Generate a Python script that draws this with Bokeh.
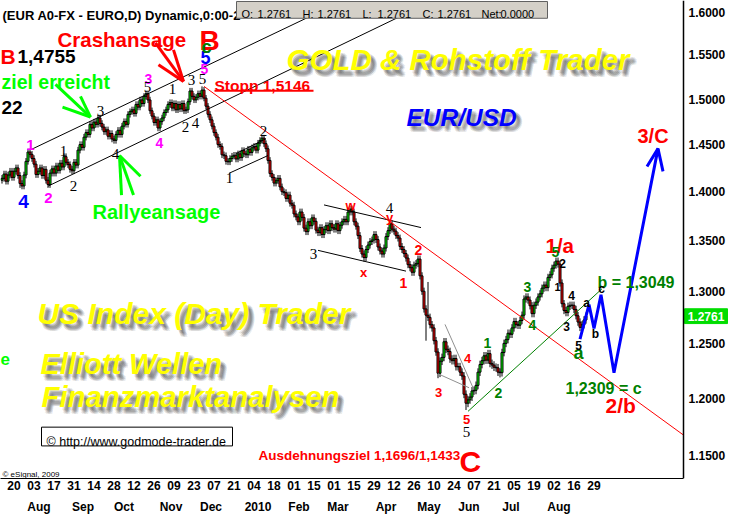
import math
from bokeh.plotting import figure
from bokeh.models import FixedTicker, PrintfTickFormatter, LinearAxis, Range1d
from bokeh.core.properties import value
from bokeh.embed import file_html
from bokeh.resources import INLINE

# ---------------- data ----------------
# bar index 0 = 20 Jul 2009 (daily EUR/USD bars, trading days)
first_bar = -6
first_open = 1.4120
closes = [
    1.4140, 1.4185, 1.4110, 1.4175, 1.4215, 1.4150,
    1.4215, 1.4250, 1.4170, 1.4085, 1.4060, 1.4175, 1.4320, 1.4420, 1.4395, 1.4350,
    1.4290, 1.4180, 1.4215, 1.4250, 1.4170, 1.4235, 1.4120, 1.4075, 1.4195, 1.4240,
    1.4195, 1.4270, 1.4225, 1.4300, 1.4260, 1.4370, 1.4310, 1.4285, 1.4235, 1.4220,
    1.4310, 1.4280, 1.4440, 1.4500, 1.4470, 1.4580, 1.4630, 1.4610, 1.4720, 1.4680,
    1.4745, 1.4720, 1.4790, 1.4730, 1.4690, 1.4640, 1.4660, 1.4590, 1.4620, 1.4560,
    1.4545, 1.4610, 1.4655, 1.4610, 1.4700, 1.4750, 1.4720, 1.4830, 1.4860, 1.4880,
    1.4840, 1.4940, 1.4910, 1.4990, 1.4950, 1.5030, 1.5060, 1.4990, 1.4870, 1.4810,
    1.4740, 1.4770, 1.4680, 1.4750, 1.4790, 1.4850, 1.4880, 1.4940, 1.4960, 1.4900,
    1.4950, 1.4880, 1.4940, 1.4890, 1.4950, 1.4870, 1.4880, 1.4970, 1.5090, 1.5030,
    1.4990, 1.5020, 1.5060, 1.5030, 1.5100, 1.5010, 1.4920, 1.4830, 1.4770, 1.4700,
    1.4630, 1.4580, 1.4500, 1.4480, 1.4390, 1.4380, 1.4320, 1.4315, 1.4350, 1.4375,
    1.4385, 1.4345, 1.4400, 1.4360, 1.4435, 1.4400, 1.4390, 1.4450, 1.4415, 1.4465,
    1.4480, 1.4440, 1.4515, 1.4545, 1.4570, 1.4510, 1.4455, 1.4330, 1.4190, 1.4150,
    1.4090, 1.4115, 1.4140, 1.4050, 1.4000, 1.3990, 1.3930, 1.3965, 1.3880, 1.3860,
    1.3770, 1.3740, 1.3690, 1.3790, 1.3735, 1.3625, 1.3590, 1.3690, 1.3650, 1.3730,
    1.3695, 1.3605, 1.3580, 1.3630, 1.3560, 1.3610, 1.3650, 1.3600, 1.3670, 1.3630,
    1.3615, 1.3670, 1.3600, 1.3655, 1.3690, 1.3715, 1.3690, 1.3790, 1.3820, 1.3790,
    1.3690, 1.3645, 1.3550, 1.3420, 1.3365, 1.3330, 1.3410, 1.3455, 1.3490, 1.3505,
    1.3560, 1.3510, 1.3435, 1.3395, 1.3365, 1.3425, 1.3540, 1.3600, 1.3670, 1.3615,
    1.3595, 1.3550, 1.3525, 1.3440, 1.3410, 1.3370, 1.3325, 1.3260, 1.3230, 1.3185,
    1.3255, 1.3270, 1.3315, 1.3150, 1.3000, 1.2830, 1.2770, 1.2750, 1.2680, 1.2650,
    1.2530, 1.2425, 1.2230, 1.2340, 1.2375, 1.2520, 1.2450, 1.2430, 1.2360, 1.2345,
    1.2365, 1.2290, 1.2290, 1.2240, 1.2205, 1.2040, 1.1960, 1.1990, 1.2015, 1.2070,
    1.2075, 1.2120, 1.2240, 1.2310, 1.2345, 1.2390, 1.2350, 1.2410, 1.2320, 1.2305,
    1.2285, 1.2280, 1.2240, 1.2235, 1.2420, 1.2505, 1.2540, 1.2600, 1.2590, 1.2650,
    1.2710, 1.2680, 1.2675, 1.2720, 1.2770, 1.2925, 1.2945, 1.2915, 1.2860, 1.2785,
    1.2865, 1.2895, 1.2945, 1.2975, 1.3030, 1.3060, 1.3035, 1.3135, 1.3160, 1.3225,
    1.3255, 1.3295, 1.3265, 1.3080, 1.2880, 1.2815, 1.2795, 1.2855, 1.2865, 1.2865,
    1.2825, 1.2765, 1.2705, 1.2655, 1.2680, 1.2725, 1.2761,
]
high_extra = {7: 1.4450, 42: 1.4800, 66: 1.5086, 88: 1.5120, 94: 1.5142, 124: 1.4584,
              169: 1.3853, 188: 1.3711, 207: 1.3090, 271: 1.3314}
low_extra = {3: 1.4040, 17: 1.4050, 50: 1.4520, 72: 1.4650, 107: 1.4290, 175: 1.3290,
             199: 1.3150, 206: 1.2530, 212: 1.2185, 226: 1.1900, 243: 1.2192, 283: 1.2620}
last_price = 1.2761

day_ticks = list(range(0, 300, 10))
day_labels = ["20", "03", "17", "31", "14", "28", "12", "26", "09", "23", "07", "21", "04", "18",
              "01", "15", "01", "15", "29", "12", "26", "10", "24", "07", "21", "05", "19", "02",
              "16", "29"]
month_pos = [12.5, 34.5, 55, 78.5, 98.5, 122, 142.5, 162, 186, 207.5, 227.5, 248.5, 272.5]
month_labels = ["Aug", "Sep", "Oct", "Nov", "Dec", "2010", "Feb", "Mar", "Apr", "May", "Jun",
                "Jul", "Aug"]
price_ticks = [1.15, 1.20, 1.25, 1.30, 1.35, 1.40, 1.45, 1.50, 1.55, 1.60]

# trend / channel lines (bar index, price)
chan1_up_x, chan1_up_y = [8.5, 158.5], [1.4446, 1.6071]
chan1_lo_x, chan1_lo_y = [17, 203.5], [1.4058, 1.6071]
chan2_up_x, chan2_up_y = [111, 126], [1.4403, 1.4563]
chan2_lo_x, chan2_lo_y = [107.5, 127], [1.4193, 1.4382]
chan3_up_x, chan3_up_y = [155, 203.5], [1.3863, 1.3631]
chan3_lo_x, chan3_lo_y = [152, 196], [1.3402, 1.3196]
red_tl_x, red_tl_y = [95, 334.75], [1.5142, 1.1680]
green_tl_x, green_tl_y = [227, 294], [1.1888, 1.3024]
gray1_x, gray1_y = [215.5, 229.5], [1.2683, 1.2099]
gray2_x, gray2_y = [212, 227.5], [1.2225, 1.2099]
proj_x = [283, 287.5, 290, 293.5, 300, 322]
proj_y = [1.2545, 1.2871, 1.2646, 1.2965, 1.2234, 1.4456]
arrow_x = [316.5, 322, 324.5]
arrow_y = [1.4265, 1.4456, 1.4213]

# ---------------- figure ----------------
AXIS_X = 334.75  # bar position of the price axis line
p = figure(width=730, height=516, x_range=Range1d(-6.75, 358.25),
           y_range=Range1d(1.13082, 1.61418),
           y_axis_type="log", y_axis_location="right", output_backend="svg",
           toolbar_location=None, min_border_left=0, min_border_top=0,
           min_border_right=0, min_border_bottom=32)
p.outline_line_color = None
p.xgrid.visible = False
p.ygrid.visible = False
p.background_fill_color = "white"
p.border_fill_color = "white"

FONT = "Liberation Sans"

xa = p.xaxis[0]
xa.ticker = FixedTicker(ticks=day_ticks)
xa.major_label_overrides = {t: l for t, l in zip(day_ticks, day_labels)}
xa.bounds = (-6.75, AXIS_X)
xa.major_tick_out = 0
xa.major_tick_in = 0
xa.minor_tick_line_color = None
xa.major_label_standoff = 2
xa.major_label_text_font = FONT
xa.major_label_text_font_style = "bold"
xa.major_label_text_font_size = "12px"
xa.major_label_text_color = "black"
xa.axis_line_color = "black"

ma = LinearAxis(ticker=FixedTicker(ticks=month_pos),
                major_label_overrides={t: l for t, l in zip(month_pos, month_labels)})
ma.axis_line_color = None
ma.major_tick_line_color = None
ma.minor_tick_line_color = None
ma.major_label_standoff = 1
ma.major_label_text_font = FONT
ma.major_label_text_font_style = "bold"
ma.major_label_text_font_size = "12px"
ma.major_label_text_color = "black"
p.add_layout(ma, "below")

ya = p.yaxis[0]
ya.fixed_location = AXIS_X
ya.ticker = FixedTicker(ticks=price_ticks)
ya.formatter = PrintfTickFormatter(format="%.4f")
ya.major_tick_out = 0
ya.major_tick_in = 0
ya.minor_tick_line_color = None
ya.major_label_standoff = 5
ya.major_label_text_font = FONT
ya.major_label_text_font_style = "bold"
ya.major_label_text_font_size = "12px"
ya.major_label_text_color = "black"
ya.axis_line_color = "black"
ya.axis_line_width = 1.5

# ---------------- candles ----------------
n = len(closes)
idx = list(range(first_bar, first_bar + n))
opens = [first_open] + closes[:-1]
highs, lows = [], []
for k, i in enumerate(idx):
    hi = max(opens[k], closes[k]) + 0.0035
    lo = min(opens[k], closes[k]) - 0.0035
    highs.append(max(hi, high_extra.get(i, hi)))
    lows.append(min(lo, low_extra.get(i, lo)))

p.segment(x0=idx, y0=lows, x1=idx, y1=highs, line_color="black", line_width=1)
up = [k for k in range(n) if closes[k] >= opens[k]]
dn = [k for k in range(n) if closes[k] < opens[k]]
p.vbar(x=[idx[k] for k in up], width=1.0, bottom=[opens[k] for k in up],
       top=[closes[k] for k in up], fill_color="#00FF00", line_color="black", line_width=1)
p.vbar(x=[idx[k] for k in dn], width=1.0, bottom=[closes[k] for k in dn],
       top=[opens[k] for k in dn], fill_color="#FF0000", line_color="black", line_width=1)

# ---------------- lines ----------------
for xs, ys in [(chan1_up_x, chan1_up_y), (chan1_lo_x, chan1_lo_y), (chan2_up_x, chan2_up_y),
               (chan2_lo_x, chan2_lo_y), (chan3_up_x, chan3_up_y), (chan3_lo_x, chan3_lo_y)]:
    p.line(xs, ys, line_color="black", line_width=1)
p.line(red_tl_x, red_tl_y, line_color="#FF0000", line_width=1)
p.line(green_tl_x, green_tl_y, line_color="#008000", line_width=1)
p.line(gray1_x, gray1_y, line_color="#909090", line_width=1)
p.line(gray2_x, gray2_y, line_color="#909090", line_width=1)
p.line(proj_x, proj_y, line_color="#0000FF", line_width=3)
p.line(arrow_x, arrow_y, line_color="#0000FF", line_width=3)


# ---------------- annotations (reference pixel -> data) ----------------
def P(x, y):
    return (x - 13.5) / 2.0, 1.6 * math.exp(-(y - 12) / 1360.0)


def txt(s, x, y, color, size, style="bold", font=FONT, align="left",
        baseline="alphabetic", alpha=1.0):
    dx, dy = P(x, y)
    p.text(x=[dx], y=[dy], text=[s], text_color=color, text_font=value(font),
           text_font_size=f"{size}px", text_font_style=style, text_align=align,
           text_baseline=baseline, text_alpha=alpha)


def seg(x0, y0, x1, y1, color, w):
    a0, b0 = P(x0, y0)
    a1, b1 = P(x1, y1)
    p.segment(x0=[a0], y0=[b0], x1=[a1], y1=[b1], line_color=color, line_width=w)


def box(x0, y0, x1, y1, fill, line):
    l, t = P(x0, y0)
    r, b = P(x1, y1)
    p.quad(left=[l], right=[r], top=[t], bottom=[b], fill_color=fill, line_color=line,
           line_width=1)


def shadow_txt(s, x, y, size, color):
    for ox, oy in [(2, 3), (3, 4), (4, 5), (5, 4), (4, 3), (5, 6), (6, 5), (3, 6), (6, 7), (4, 7)]:
        txt(s, x + ox, y + oy, "#404040", size, style="bold italic", alpha=0.11)
    txt(s, x, y, color, size, style="bold italic")


RED = "#FF0000"
GREEN = "#00FF00"
DKGREEN = "#008000"
MAG = "#FF00FF"
BLUE = "#0000FF"
YEL = "#FFFF00"

# arrows
for tx, ty in [(55, 85), (62, 108), (80, 97)]:
    seg(tx, ty, 90, 118, GREEN, 3)
for tx, ty in [(140, 178), (133, 197), (121, 197)]:
    seg(tx, ty, 119, 157, GREEN, 3)
for tx, ty in [(155, 43), (173, 50), (158, 65)]:
    seg(tx, ty, 183, 82, RED, 3)

# big watermark texts
shadow_txt("GOLD & Rohstoff Trader", 286, 60, 29.5, YEL)
shadow_txt("EUR/USD", 406, 118, 24.5, BLUE)
shadow_txt("US Index (Day) Trader", 37, 317, 30, YEL)
shadow_txt("Elliott Wellen", 40, 368, 29, YEL)
shadow_txt("Finanzmarktanalysen", 41, 401, 29.3, YEL)

# comments
txt("Crashansage", 57, 39, RED, 20.5)
txt("B", 199, 40, RED, 28)
txt("B", 0, 57, RED, 21)
txt("1,4755", 17, 57, "black", 19)
txt("ziel erreicht", 1, 83, GREEN, 19.5)
txt("22", 1, 108, "black", 19)
txt("Rallyeansage", 92, 214, GREEN, 20)
txt("e", 0, 363, GREEN, 17)
txt("Stopp 1,5146", 214, 86.5, RED, 15.5)
seg(214, 91.5, 313, 91.5, RED, 2)
txt("Ausdehnungsziel 1,1696/1,1433", 258, 461, RED, 13.5)
txt("C", 459, 467, RED, 30)
txt("1/a", 545, 248, RED, 20.5)
txt("2/b", 605, 410, RED, 21)
txt("3/C", 637, 137, RED, 20)
txt("b = 1,3049", 597, 286, DKGREEN, 16)
txt("1,2309 = c", 565, 393, DKGREEN, 16)
txt("\u00a9 eSignal, 2009", 2, 480, "black", 8, style="normal")

# url box
box(41, 432, 232, 451, "white", "black")
txt("\u00a9 http://www.godmode-trader.de", 46, 447, "black", 12.5, style="normal")

# wave labels: text, x, y, color, size, style, font
waves = [
    ("1", 30, 146, MAG, 15, "bold", FONT), ("2", 48, 200, MAG, 15, "bold", FONT),
    ("3", 148, 79, MAG, 14, "bold", FONT), ("4", 159, 144, MAG, 14, "bold", FONT),
    ("5", 204, 69, MAG, 14, "bold", FONT),
    ("4", 23, 204, BLUE, 19, "bold", FONT), ("5", 205, 58, BLUE, 18, "bold", FONT),
    ("c", 206, 47, DKGREEN, 19, "bold", FONT),
    ("w", 350, 208, RED, 13, "bold", FONT), ("x", 363, 275, RED, 13, "bold", FONT),
    ("y", 389, 220, RED, 13, "bold", FONT), ("1", 403, 286, RED, 14, "bold", FONT),
    ("2", 418, 253, RED, 14, "bold", FONT), ("4", 467, 362, RED, 13, "bold", FONT),
    ("3", 438, 397, RED, 13, "bold", FONT), ("5", 466, 424, RED, 13, "bold", FONT),
    ("1", 487, 347, DKGREEN, 14, "bold", FONT), ("2", 498, 397, DKGREEN, 14, "bold", FONT),
    ("3", 527, 290, DKGREEN, 14, "bold", FONT), ("4", 532, 329, DKGREEN, 14, "bold", FONT),
    ("5", 555, 255, DKGREEN, 14, "bold", FONT), ("a", 578, 357, DKGREEN, 18, "bold", FONT),
    ("2", 562, 266, "black", 12, "bold", FONT), ("1", 557, 290, "black", 11, "bold", FONT),
    ("4", 571, 299, "black", 12, "bold", FONT), ("3", 566, 330, "black", 12, "bold", FONT),
    ("a", 586, 306, "black", 12, "bold", FONT), ("5", 578, 349, "black", 12, "bold", FONT),
    ("b", 595, 338, "black", 12, "bold", FONT), ("c", 601, 292, "black", 12, "bold", FONT),
]
SERIF = "Liberation Serif"
for s, x, y in [("1", 63, 152), ("2", 73, 188), ("3", 100, 112), ("4", 115, 155),
                ("5", 147, 88), ("1", 172, 90), ("2", 185, 128), ("4", 195, 124),
                ("3", 191, 80), ("5", 202, 79), ("1", 229, 180), ("2", 263, 132),
                ("3", 313, 257), ("4", 389, 210), ("5", 466, 437)]:
    waves.append((s, x, y, "black", 15, "normal", SERIF))
for s, x, y, c, sz, st, f in waves:
    txt(s, x, y, c, sz, style=st, font=f, align="center", baseline="middle")

# header line and quote box
txt("(EUR A0-FX - EURO,D) Dynamic,0:00-2", 2, 15, "black", 13)
box(236, 1, 547, 18, "#D4D0C8", "#606060")
for s, x in [("O:", 241), ("1.2761", 257), ("H:", 302), ("1.2761", 317), ("L:", 362),
             ("1.2761", 377), ("C:", 422), ("1.2761", 437), ("Net:", 481), ("0.0000", 500)]:
    txt(s, x, 14, "black", 11, style="normal")

# last price marker on the price axis
lpx = 12 + 1360 * math.log(1.6 / last_price)
box(684, lpx - 7.5, 727, lpx + 7.5, "#00DD00", "#00DD00")
txt(f"{last_price:.4f}", 705.5, lpx, "white", 12, align="center", baseline="middle")

open("out.html", "w").write(file_html(p, INLINE))
